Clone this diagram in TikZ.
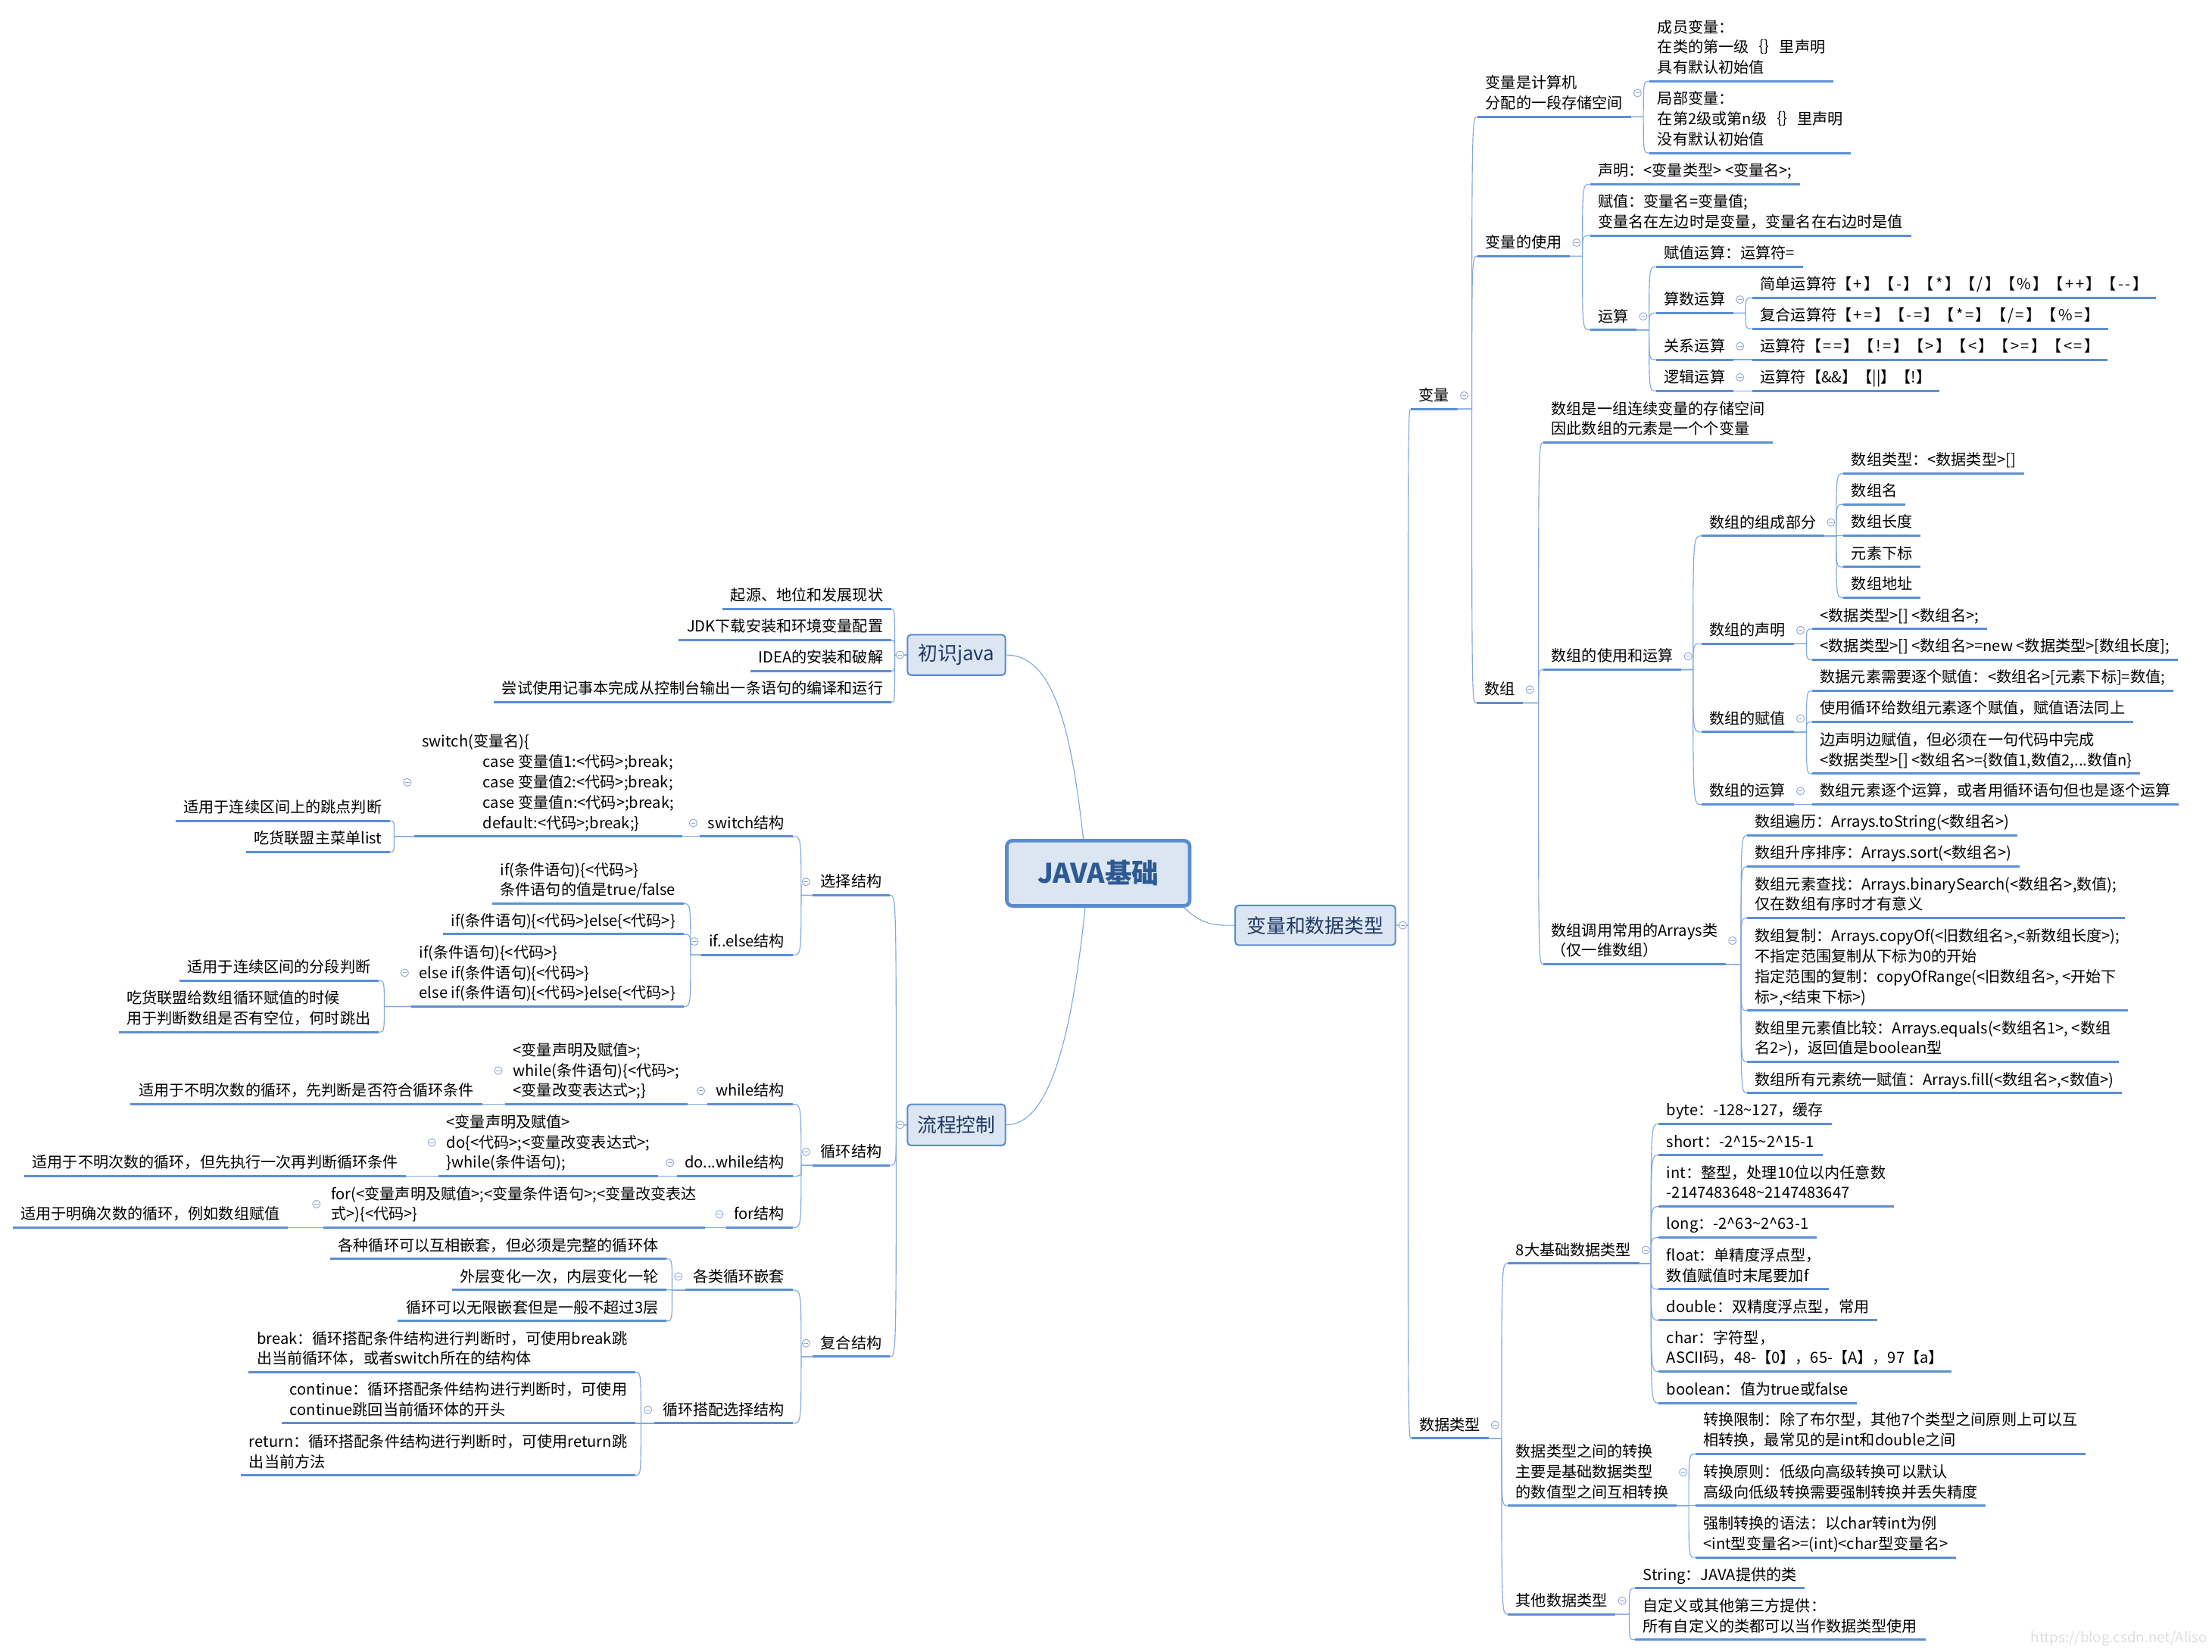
\documentclass[tikz,border=0pt]{standalone}
\usepackage{fontspec}
\setmainfont{Noto Sans CJK SC}
\usetikzlibrary{calc}
\definecolor{ulc}{HTML}{5B8FD6}
\definecolor{lnc}{HTML}{7FA7E0}
\definecolor{boxf}{HTML}{DCE6F2}
\definecolor{boxd}{HTML}{5B8BD0}
\definecolor{boxt}{HTML}{1F3864}
\definecolor{ctext}{HTML}{2D5A92}
\definecolor{mkc}{HTML}{8FA9D4}
\newcommand\lf{\fontsize{10.75}{14.3}\selectfont}
\newcommand\kk{\kern1.3pt}
\newcommand\NodeR[4]{\node[leaf,anchor=south west] (#1) at (#2,#3) {#4}; \draw[ul] (#1.south west) -- (#1.south east);}
\newcommand\NodeL[4]{\node[leaf,anchor=south east] (#1) at (#2,#3) {#4}; \draw[ul] (#1.south west) -- (#1.south east);}
\newcommand\ConR[3]{\foreach \ch in {#3}{\draw[con] let \p1=(#1.south east), \p2=(\ch.south west) in (\p1) -- (#2pt,\y1) .. controls (#2pt,\y2) .. (\p2);}}
\newcommand\ConRb[3]{\foreach \ch in {#3}{\draw[con] let \p1=(#1.east), \p2=(\ch.south west) in (\p1) -- (#2pt,\y1) .. controls (#2pt,\y2) .. (\p2);}}
\newcommand\ConL[3]{\foreach \ch in {#3}{\draw[con] let \p1=(#1.south west), \p2=(\ch.south east) in (\p1) -- (#2pt,\y1) .. controls (#2pt,\y2) .. (\p2);}}
\newcommand\ConLb[3]{\foreach \ch in {#3}{\draw[con] let \p1=(#1.west), \p2=(\ch.south east) in (\p1) -- (#2pt,\y1) .. controls (#2pt,\y2) .. (\p2);}}
\newcommand\MarkDraw{\draw[mkline, fill=white] (mkp) circle[radius=2.7]; \draw[mkline] ($(mkp)+(-1.5,0)$) -- ($(mkp)+(1.5,0)$);}
\newcommand\MarkR[1]{\foreach \nn in {#1}{\coordinate (mkp) at ($(\nn.east)+(4.7,0)$); \MarkDraw}}
\newcommand\MarkL[1]{\foreach \nn in {#1}{\coordinate (mkp) at ($(\nn.west)+(-4.7,0)$); \MarkDraw}}
\begin{document}
\begin{tikzpicture}[x=1pt,y=-1pt,
 leaf/.style={inner xsep=5.5pt, inner ysep=4pt, text depth=1.5pt, align=left, font=\lf},
 ul/.style={draw=ulc, line width=1.6pt},
 con/.style={draw=lnc, line width=0.6pt},
 mkline/.style={draw=mkc, line width=0.5pt},
 box/.style={draw=boxd, fill=boxf, line width=1.1pt, rounded corners=2.5pt, text=boxt, font=\fontsize{13.8}{16}\selectfont, inner sep=0pt},
 cbox/.style={draw=boxd, fill=boxf, line width=2.5pt, rounded corners=4pt, text=ctext, font=\fontsize{19}{22}\selectfont\bfseries, inner sep=0pt}]
\fill[white] (0,0) rectangle (1560,1165.3);
\useasboundingbox (0,0) rectangle (1560,1165.3);

% central and main boxes
\node[cbox, minimum width=129pt, minimum height=46pt] (c) at (774.5,616) {JAVA基础};
\node[box, minimum width=69pt, minimum height=28.5pt] (b1) at (674.5,462) {初识java};
\node[box, minimum width=69pt, minimum height=29pt] (b2) at (674.5,793.5) {流程控制};
\node[box, minimum width=113pt, minimum height=28pt] (b3) at (927.6,652.7) {变量和数据类型};
\draw[con] ($(c.north west)!0.42!(c.north east)$) .. controls +(-9,-83) and +(32,0) .. (b1.east);
\draw[con] ($(c.south west)!0.43!(c.south east)$) .. controls +(-9,86) and +(32,0) .. (b2.east);
\draw[con] ($(c.south west)!0.96!(c.south east)$) .. controls +(14,13) and +(-13,0) .. (b3.west);

% ---------------- right side ----------------
\NodeR{v}{995}{288.5}{变量}
\NodeR{dt}{995.3}{1014.6}{数据类型}
\NodeR{vc}{1042}{82.3}{变量是计算机\\分配的一段存储空间}
\NodeR{vu}{1042}{180.7}{变量的使用}
\NodeR{arr}{1041.3}{495.9}{数组}
\NodeR{m1}{1163.3}{57.3}{成员变量：\\在类的第一级｛｝里声明\\具有默认初始值}
\NodeR{m2}{1163.3}{107.9}{局部变量：\\在第2级或第n级｛｝里声明\\没有默认初始值}
\NodeR{d1}{1121.3}{130}{声明：<变量类型> <变量名>;}
\NodeR{d2}{1121.3}{166.1}{赋值：变量名=变量值;\\变量名在左边时是变量，变量名在右边时是值}
\NodeR{op}{1121.3}{232.7}{运算}
\NodeR{o1}{1168}{188.2}{赋值运算：运算符=}
\NodeR{o2}{1168}{220.8}{算数运算}
\NodeR{o3}{1168}{253.7}{关系运算}
\NodeR{o4}{1168}{275.7}{逻辑运算}
\NodeR{o21}{1235.8}{210.1}{简单运算符【\kk+\kk】【\kk-\kk】【\kk*\kk】【\kk/\kk】【\kk\%\kk】【\kk+\kk+\kk】【\kk-\kk-\kk】}
\NodeR{o22}{1235.8}{232}{复合运算符【\kk+\kk=\kk】【\kk-\kk=\kk】【\kk*\kk=\kk】【\kk/\kk=\kk】【\kk\%\kk=\kk】}
\NodeR{o31}{1235.8}{253.7}{运算符【\kk=\kk=\kk】【\kk!\kk=\kk】【\kk>\kk】【\kk<\kk】【\kk>\kk=\kk】【\kk<\kk=\kk】}
\NodeR{o41}{1235.8}{275.7}{运算符【\&\&】【||】【!】}
\NodeR{a1}{1088.4}{312.2}{数组是一组连续变量的存储空间\\因此数组的元素是一个个变量}
\NodeR{a2}{1088.4}{472.4}{数组的使用和运算}
\NodeR{a3}{1088.4}{680.2}{数组调用常用的Arrays类\\（仅一维数组）}
\NodeR{a21}{1199.9}{378}{数组的组成部分}
\NodeR{a22}{1199.9}{454}{数组的声明}
\NodeR{a23}{1199.9}{516.4}{数组的赋值}
\NodeR{a24}{1199.9}{567.5}{数组的运算}
\NodeR{p1}{1300}{334.1}{数组类型：<数据类型>[]}
\NodeR{p2}{1300}{355.8}{数组名}
\NodeR{p3}{1300}{377.9}{数组长度}
\NodeR{p4}{1300}{400}{元素下标}
\NodeR{p5}{1300}{421.6}{数组地址}
\NodeR{s1}{1278}{443.7}{<数据类型>[] <数组名>;}
\NodeR{s2}{1278}{465.3}{<数据类型>[] <数组名>=new <数据类型>[数组长度];}
\NodeR{f1}{1278}{487.4}{数据元素需要逐个赋值：<数组名>[元素下标]=数值;}
\NodeR{f2}{1278}{509.3}{使用循环给数组元素逐个赋值，赋值语法同上}
\NodeR{f3}{1278}{545.8}{边声明边赋值，但必须在一句代码中完成\\<数据类型>[] <数组名>=\{数值1,数值2,...数值n\}}
\NodeR{r1}{1278}{567.5}{数组元素逐个运算，或者用循环语句但也是逐个运算}
\NodeR{y1}{1232.1}{589.4}{数组遍历：Arrays.toString(<数组名>)}
\NodeR{y2}{1232.1}{611.3}{数组升序排序：Arrays.sort(<数组名>)}
\NodeR{y3}{1232.1}{647.6}{数组元素查找：Arrays.binarySearch(<数组名>,数值);\\仅在数组有序时才有意义}
\NodeR{y4}{1232.1}{712.9}{数组复制：Arrays.copyOf(<旧数组名>,<新数组长度>);\\不指定范围复制从下标为0的开始\\指定范围的复制：copyOfRange(<旧数组名>, <开始下\\标>,<结束下标>)}
\NodeR{y5}{1232.1}{749.1}{数组里元素值比较：Arrays.equals(<数组名1>, <数组\\名2>)，返回值是boolean型}
\NodeR{y6}{1232.1}{771}{数组所有元素统一赋值：Arrays.fill(<数组名>,<数值>)}
\NodeR{b8}{1063.4}{891.2}{8大基础数据类型}
\NodeR{cv}{1063.4}{1062.2}{数据类型之间的转换\\主要是基础数据类型\\的数值型之间互相转换}
\NodeR{ot}{1063.4}{1138.7}{其他数据类型}
\NodeR{t1}{1169.7}{792.7}{byte：-128\textasciitilde127，缓存}
\NodeR{t2}{1169.7}{814.8}{short：-2\textasciicircum15\textasciitilde2\textasciicircum15-1}
\NodeR{t3}{1169.7}{851.1}{int：整型，处理10位以内任意数\\-2147483648\textasciitilde2147483647}
\NodeR{t4}{1169.7}{873}{long：-2\textasciicircum63\textasciitilde2\textasciicircum63-1}
\NodeR{t5}{1169.7}{909.4}{float：单精度浮点型，\\数值赋值时末尾要加f}
\NodeR{t6}{1169.7}{931.3}{double：双精度浮点型，常用}
\NodeR{t7}{1169.7}{967.5}{char：字符型，\\ASCII码，48-【0】，65-【A】，97【a】}
\NodeR{t8}{1169.7}{989.7}{boolean：值为true或false}
\NodeR{c1}{1195.6}{1025.6}{转换限制：除了布尔型，其他7个类型之间原则上可以互\\相转换，最常见的是int和double之间}
\NodeR{c2}{1195.6}{1062.2}{转换原则：低级向高级转换可以默认\\高级向低级转换需要强制转换并丢失精度}
\NodeR{c3}{1195.6}{1098.6}{强制转换的语法：以char转int为例\\<int型变量名>=(int)<char型变量名>}
\NodeR{q1}{1153}{1120.4}{String：JAVA提供的类}
\NodeR{q2}{1153}{1156.6}{自定义或其他第三方提供：\\所有自定义的类都可以当作数据类型使用}

\ConRb{b3}{993}{v,dt}
\ConR{v}{1038}{vc,vu,arr}
\ConR{vc}{1159}{m1,m2}
\ConR{vu}{1116}{d1,d2,op}
\ConR{op}{1163}{o1,o2,o3,o4}
\ConR{o2}{1231}{o21,o22}
\ConR{o3}{1231}{o31}
\ConR{o4}{1231}{o41}
\ConR{arr}{1085}{a1,a2,a3}
\ConR{a2}{1194}{a21,a22,a23,a24}
\ConR{a21}{1295}{p1,p2,p3,p4,p5}
\ConR{a22}{1274}{s1,s2}
\ConR{a23}{1274}{f1,f2,f3}
\ConR{a24}{1274}{r1}
\ConR{a3}{1227.8}{y1,y2,y3,y4,y5,y6}
\ConR{dt}{1059}{b8,cv,ot}
\ConR{b8}{1164.3}{t1,t2,t3,t4,t5,t6,t7,t8}
\ConR{cv}{1191}{c1,c2,c3}
\ConR{ot}{1149}{q1,q2}
\MarkR{b3,v,vc,vu,op,o2,o3,o4,arr,a2,a3,a21,a22,a23,a24,dt,b8,cv,ot}

% ---------------- left side ----------------
\NodeL{l1}{628.5}{429.5}{起源、地位和发展现状}
\NodeL{l2}{628.5}{451.6}{JDK下载安装和环境变量配置}
\NodeL{l3}{628.5}{473.3}{IDEA的安装和破解}
\NodeL{l4}{628.5}{495.4}{尝试使用记事本完成从控制台输出一条语句的编译和运行}
\NodeL{sel}{627.5}{631.5}{选择结构}
\NodeL{loop}{627.5}{822}{循环结构}
\NodeL{comp}{627.5}{957}{复合结构}
\NodeL{sw}{559}{590}{switch结构}
\NodeL{ie}{559}{673.6}{if..else结构}
\NodeL{swc}{481}{590}{switch(变量名)\{\\\hspace*{4em}case 变量值1:<代码>;break;\\\hspace*{4em}case 变量值2:<代码>;break;\\\hspace*{4em}case 变量值n:<代码>;break;\\\hspace*{4em}default:<代码>;break;\}}
\NodeL{sw1}{275}{579}{适用于连续区间上的跳点判断}
\NodeL{sw2}{275}{601}{吃货联盟主菜单list}
\NodeL{i1}{482}{637.4}{if(条件语句)\{<代码>\}\\条件语句的值是true/false}
\NodeL{i2}{482}{659}{if(条件语句)\{<代码>\}else\{<代码>\}}
\NodeL{i3}{482}{710}{if(条件语句)\{<代码>\}\\else if(条件语句)\{<代码>\}\\else if(条件语句)\{<代码>\}else\{<代码>\}}
\NodeL{i31}{267}{691.8}{适用于连续区间的分段判断}
\NodeL{i32}{267}{728}{吃货联盟给数组循环赋值的时候\\用于判断数组是否有空位，何时跳出}
\NodeL{wh}{559}{779}{while结构}
\NodeL{dw}{559}{829.7}{do...while结构}
\NodeL{fo}{559}{866}{for结构}
\NodeL{whc}{485}{779}{<变量声明及赋值>;\\while(条件语句)\{<代码>;\\<变量改变表达式>;\}}
\NodeL{wh1}{340}{779}{适用于不明次数的循环，先判断是否符合循环条件}
\NodeL{dwc}{464}{829.7}{<变量声明及赋值>\\do\{<代码>;<变量改变表达式>;\\\}while(条件语句);}
\NodeL{dw1}{286.5}{829.7}{适用于不明次数的循环，但先执行一次再判断循环条件}
\NodeL{foc}{497}{866}{for(<变量声明及赋值>;<变量条件语句>;<变量改变表达\\式>)\{<代码>\}}
\NodeL{fo1}{203}{866}{适用于明确次数的循环，例如数组赋值}
\NodeL{nest}{559}{910}{各类循环嵌套}
\NodeL{cs}{559}{1004}{循环搭配选择结构}
\NodeL{n1}{470}{888}{各种循环可以互相嵌套，但必须是完整的循环体}
\NodeL{n2}{470}{909.9}{外层变化一次，内层变化一轮}
\NodeL{n3}{470}{931.8}{循环可以无限嵌套但是一般不超过3层}
\NodeL{k1}{448}{968}{break：循环搭配条件结构进行判断时，可使用break跳\\出当前循环体，或者switch所在的结构体}
\NodeL{k2}{448}{1004}{continue：循环搭配条件结构进行判断时，可使用\\continue跳回当前循环体的开头}
\NodeL{k3}{448}{1040.7}{return：循环搭配条件结构进行判断时，可使用return跳\\出当前方法}

\ConLb{b1}{631}{l1,l2,l3,l4}
\ConLb{b2}{632}{sel,loop,comp}
\ConL{sel}{565}{sw,ie}
\ConL{sw}{487}{swc}
\ConL{swc}{278}{sw1,sw2}
\ConL{ie}{487}{i1,i2,i3}
\ConL{i3}{271}{i31,i32}
\ConL{loop}{565}{wh,dw,fo}
\ConL{wh}{490}{whc}
\ConL{whc}{346}{wh1}
\ConL{dw}{470}{dwc}
\ConL{dwc}{293}{dw1}
\ConL{fo}{503}{foc}
\ConL{foc}{210}{fo1}
\ConL{comp}{565}{nest,cs}
\ConL{nest}{474}{n1,n2,n3}
\ConL{cs}{452}{k1,k2,k3}
\MarkL{b1,b2,sel,loop,comp,sw,ie,swc,i3,wh,whc,dw,dwc,fo,foc,nest,cs}

\node[anchor=west, inner sep=0pt, text=black!13, font=\fontsize{10}{12}\selectfont] (wm) at (1432,1156) {https://blog.csdn.net/Aliso};
\end{tikzpicture}
\end{document}
